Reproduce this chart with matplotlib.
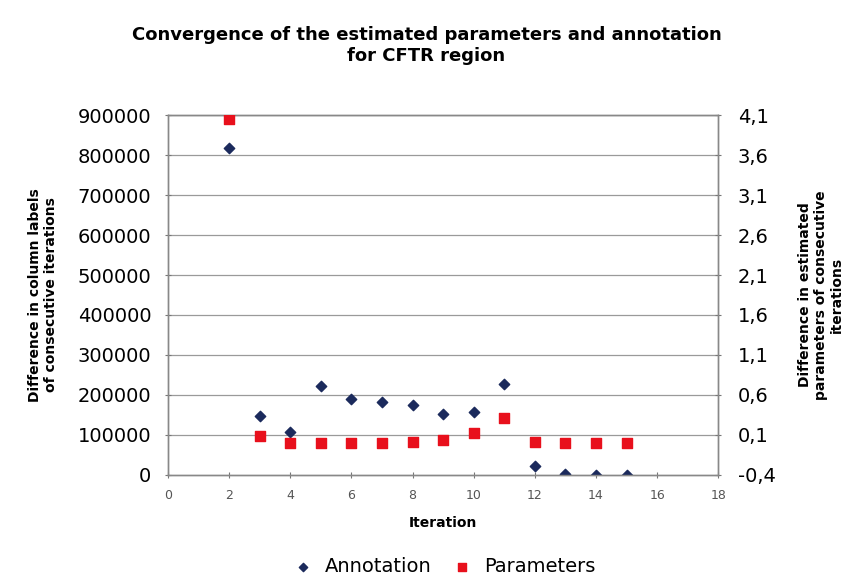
"""Convergence of annotation and parameter estimates over iterations (CFTR region)."""
import matplotlib
matplotlib.use('Agg')
import matplotlib.pyplot as plt
from matplotlib.ticker import FixedLocator, FuncFormatter

iterations = [2, 3, 4, 5, 6, 7, 8, 9, 10, 11, 12, 13, 14, 15]
annotation = [817000, 147500, 106000, 221000, 189000, 181000, 175000,
              152000, 156000, 228000, 23000, 3000, 500, 500]
parameters = [4.05, 0.08, 0.0, 0.0, 0.0, 0.0, 0.005, 0.04, 0.12, 0.31,
              0.005, 0.0, 0.0, 0.0]

left_ticks = [0, 100000, 200000, 300000, 400000, 500000, 600000, 700000, 800000, 900000]
right_ticks = [-0.4, 0.1, 0.6, 1.1, 1.6, 2.1, 2.6, 3.1, 3.6, 4.1]
x_ticks = [0, 2, 4, 6, 8, 10, 12, 14, 16, 18]

navy = '#1b2a5c'
red = '#e8101c'

fig = plt.figure(figsize=(8.53, 5.79), dpi=100)
ax = fig.add_axes([0.197, 0.180, 0.645, 0.621])
ax2 = ax.twinx()

ax.set_xlim(0, 18)
ax.set_ylim(0, 900000)
ax2.set_ylim(-0.4, 4.1)

for t in left_ticks[1:]:
    ax.axhline(t, color='#9a9a9a', lw=0.9, zorder=0)

ax.scatter(iterations, annotation, marker='D', s=28, color=navy,
           zorder=3, label='Annotation')
ax2.scatter(iterations, parameters, marker='s', s=62, color=red,
            zorder=3, label='Parameters')

ax.yaxis.set_major_locator(FixedLocator(left_ticks))
ax.yaxis.set_major_formatter(FuncFormatter(lambda v, p: '%d' % v))
ax2.yaxis.set_major_locator(FixedLocator(right_ticks))
ax2.yaxis.set_major_formatter(
    FuncFormatter(lambda v, p: ('%.1f' % v).replace('.', ',')))
ax.xaxis.set_major_locator(FixedLocator(x_ticks))

ax.tick_params(axis='y', labelsize=14, length=4, pad=10,
               direction='inout', color='#777777')
ax2.tick_params(axis='y', labelsize=14, length=4, pad=12,
                direction='inout', color='#777777')
ax.tick_params(axis='x', labelsize=9, length=4, pad=8, direction='inout',
               color='#777777', labelcolor='#555555')

for a in (ax, ax2):
    for s in a.spines.values():
        s.set_color('#888888')
        s.set_linewidth(1.0)

ax.set_xlabel('Iteration', fontsize=10, fontweight='bold', labelpad=10)
ax.set_ylabel('Difference in column labels\nof consecutive iterations',
              fontsize=10, fontweight='bold', labelpad=14)
ax2.set_ylabel('Difference in estimated\nparameters of consecutive\niterations',
               fontsize=10, fontweight='bold', labelpad=16)

fig.suptitle('Convergence of the estimated parameters and annotation\nfor CFTR region',
             fontsize=13, fontweight='bold', y=0.955)

h1, l1 = ax.get_legend_handles_labels()
h2, l2 = ax2.get_legend_handles_labels()
fig.legend(h1 + h2, l1 + l2, loc='lower center', bbox_to_anchor=(0.515, -0.025),
           ncol=2, frameon=False, fontsize=14, handletextpad=0.1,
           columnspacing=0.6, markerscale=0.8)

plt.savefig('out.png', dpi=100)
